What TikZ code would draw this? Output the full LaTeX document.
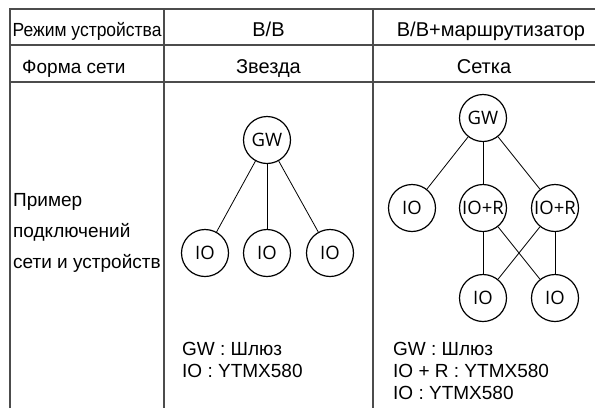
\documentclass[tikz,border=0pt]{standalone}
\usepackage{fontspec}
\setmainfont{Liberation Sans}
\newfontfamily\circfont{Open Sans}
\tikzset{
  x=1pt, y=-1pt,
  grid/.style={draw=black!70, line width=1.3pt},
  cell/.style={inner sep=0pt, font=\fontsize{19}{21}\selectfont, anchor=base},
  headcell/.style={cell, font=\fontsize{20}{22}\selectfont},
  lefttext/.style={cell, anchor=base west},
  dev/.style={circle, draw=black, line width=1.2pt, minimum size=47pt, inner sep=0pt,
    font=\circfont\fontsize{18.5}{20}\selectfont},
  link/.style={draw=black, line width=0.8pt},
}
\begin{document}
\begin{tikzpicture}
\useasboundingbox (0,0) rectangle (595,408);
% table frame
\draw[grid] (10,408) -- (10,9) -- (595,9);
\draw[grid] (10,45) -- (595,45);
\draw[grid] (10,82) -- (595,82);
\draw[grid] (164,9) -- (164,408);
\draw[grid] (373,9) -- (373,408);

% header row
\node[lefttext] (hmode) at (12.5,36.5) {\scalebox{0.92}[1]{Режим устройства}};
\node[headcell] (hbb) at (268.5,36.5) {B/B};
\node[headcell] (hbbr) at (491,36.5) {B/B+маршрутизатор};
% network shape row
\node[lefttext] (hform) at (22,73) {Форма сети};
\node[headcell] (hstar) at (268.5,73) {Звезда};
\node[headcell] (hmesh) at (484,73) {Сетка};
% example row label
\node[lefttext] (ex1) at (13,206) {Пример};
\node[lefttext] (ex2) at (13,237) {подключений};
\node[lefttext] (ex3) at (13,268) {сети и устройств};

% star network
\node[dev] (sgw) at (267,140) {GW};
\node[dev] (sio1) at (205,253) {IO};
\node[dev] (sio2) at (267,253) {IO};
\node[dev] (sio3) at (330,253) {IO};
\draw[link] (sgw) -- (sio1);
\draw[link] (sgw) -- (sio2);
\draw[link] (sgw) -- (sio3);
\node[lefttext] (sleg1) at (182,355) {GW : Шлюз};
\node[lefttext] (sleg2) at (182,377) {IO : YTMX580};

% mesh network
\node[dev] (mgw) at (483,118) {GW};
\node[dev] (mio) at (412,208) {IO};
\node[dev] (mr1) at (483,208) {IO+R};
\node[dev] (mr2) at (555,208) {IO+R};
\node[dev] (mb1) at (483,298) {IO};
\node[dev] (mb2) at (555,298) {IO};
\draw[link] (mgw) -- (mio);
\draw[link] (mgw) -- (mr1);
\draw[link] (mgw) -- (mr2);
\draw[link] (mr1) -- (mb1);
\draw[link] (mr1) -- (mb2);
\draw[link] (mr2) -- (mb1);
\draw[link] (mr2) -- (mb2);
\node[lefttext] (mleg1) at (393,355) {GW : Шлюз};
\node[lefttext] (mleg2) at (393,377) {IO + R : YTMX580};
\node[lefttext] (mleg3) at (393,399) {IO : YTMX580};
\end{tikzpicture}
\end{document}
